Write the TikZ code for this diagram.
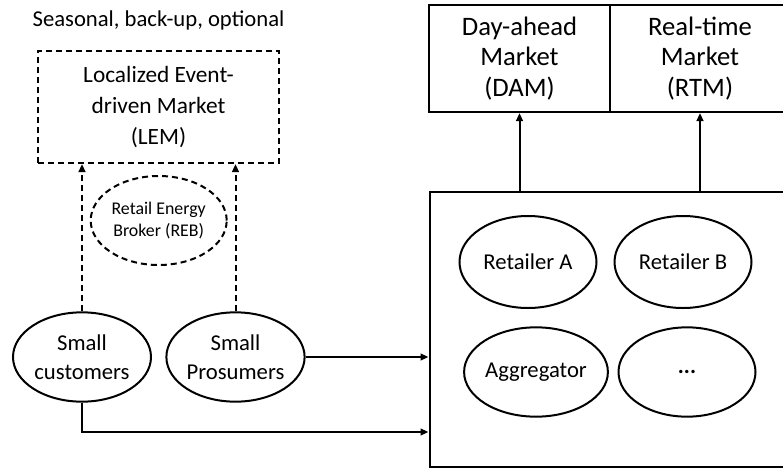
\documentclass[tikz,border=0pt]{standalone}
\usepackage{fontspec}
\setmainfont{Carlito}
\usetikzlibrary{shapes.geometric,arrows.meta}

\tikzset{every picture/.style={line width=1.5pt}}
\tikzset{
  mkt/.style={draw, rectangle, inner sep=0pt, align=center, font=\fontsize{17.5}{23}\selectfont},
  agent/.style={draw, ellipse, inner sep=0pt, minimum width=103.5pt, minimum height=67pt, align=center, font=\fontsize{17}{22}\selectfont},
  flow/.style={-{Triangle[length=6pt,width=5pt]}},
  dashline/.style={dash pattern={on 4.5pt off 3pt}},
}

\begin{document}
\begin{tikzpicture}[x=0.75pt,y=0.75pt,yscale=-1,xscale=1]
\useasboundingbox (0,0) rectangle (783,469);

% Text Node
\node (note) at (158.5,20) [font=\fontsize{17}{20}\selectfont] {Seasonal, back-up, optional};

%Shape: Rectangle [id:lem]
\node (lem) at (158.5,107) [mkt, dashline, minimum width=180.75pt, minimum height=84pt] {Localized Event-\\driven Market\\(LEM)};
%Shape: Ellipse [id:reb]
\node (reb) at (158.7,220.5) [agent, dashline, minimum width=102pt, minimum height=66.75pt, font=\fontsize{13.4}{17}\selectfont] {Retail Energy\\Broker (REB)};

%Shape: Ellipse [id:cust]
\node (cust) at (82,357) [agent] {Small\\customers};
%Shape: Ellipse [id:pros]
\node (pros) at (235.5,357) [agent] {Small\\Prosumers};

%Shape: Rectangle [id:dam]
\node (dam) at (519.5,58.5) [mkt, minimum width=135.75pt, minimum height=80.25pt, font=\fontsize{20}{23}\selectfont] {Day-ahead\\Market\\(DAM)};
%Shape: Rectangle [id:rtm]
\node (rtm) at (700,58.5) [mkt, minimum width=135.75pt, minimum height=80.25pt, font=\fontsize{20}{23}\selectfont] {Real-time\\Market\\(RTM)};

%Shape: Rectangle [id:agents]
\node (agents) at (614.5,329.5) [draw, rectangle, minimum width=277.5pt, minimum height=206.25pt] {};
%Shape: Ellipse [id:reta]
\node (reta) at (528,262) [agent, minimum width=102.75pt, minimum height=69pt] {Retailer A};
%Shape: Ellipse [id:retb]
\node (retb) at (683,262) [agent, minimum width=102.75pt, minimum height=69pt] {Retailer B};
%Shape: Ellipse [id:aggr]
\node (aggr) at (536,372) [agent, minimum width=102.75pt] {Aggregator};
%Shape: Ellipse [id:more]
\node (more) at (687,372) [agent, minimum width=102.75pt] {\textbf{...}};

%Straight Lines [id:up]
\draw [flow] (agents.north -| dam.south) -- (dam.south);
\draw [flow] (agents.north -| rtm.south) -- (rtm.south);
%Straight Lines [id:event]
\draw [flow, dashline] (cust.north) -- (cust.north |- lem.south);
\draw [flow, dashline] (pros.north) -- (pros.north |- lem.south);
%Straight Lines [id:retail]
\coordinate (bend) at (82,432);
\draw [flow] (pros.east) -- (agents.west |- pros.east);
\draw [flow] (cust.south) -- (bend) -- (agents.west |- bend);

\end{tikzpicture}
\end{document}
